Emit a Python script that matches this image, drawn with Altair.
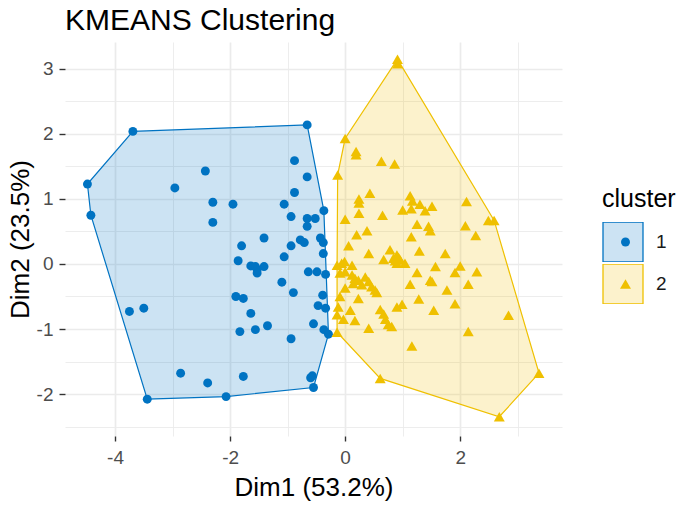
import altair as alt
import pandas as pd

# ---------------- data ----------------
cluster_labels = ["1", "2"]
cluster_colors = ["#0073C2", "#EFC000"]
cluster_fill_light = ["#CCE3F3", "#FCF2CC"]
cluster_shapes = ["circle", "triangle-up"]
cluster_sizes = [80, 120]

c1_x = [-3.69, -0.66, -4.48, -4.42, -0.88, -2.43, -0.66, -2.96, -0.88, -2.30,
        -1.95, -1.06, -0.37, -0.94, -0.66, -0.52, -0.66, -2.30, -1.41, -1.80,
        -0.78, -0.71, -0.43, -0.38, -0.94, -0.38, -1.06, -1.86, -1.64, -1.56,
        -1.53, -1.41, -1.53, -0.64, -0.49, -0.34, -1.10, -0.90, -0.39, -1.90,
        -1.77, -0.47, -0.34, -3.75, -3.50, -1.64, -1.35, -1.56, -1.83, -0.55,
        -0.37, -0.29, -0.94, -2.86, -2.39, -1.77, -0.57, -0.60, -0.55, -3.44,
        -2.07]
c1_y = [2.04, 2.14, 1.23, 0.75, 1.59, 1.43, 1.34, 1.17, 1.10, 0.95,
        0.92, 0.92, 0.82, 0.73, 0.70, 0.70, 0.58, 0.64, 0.40, 0.28,
        0.37, 0.33, 0.40, 0.33, 0.28, 0.16, 0.11, 0.05, -0.03, -0.04,
        -0.09, -0.04, -0.14, -0.12, -0.12, -0.16, -0.28, -0.44, -0.48, -0.50,
        -0.53, -0.64, -0.68, -0.73, -0.68, -0.76, -0.95, -1.01, -1.04, -0.92,
        -1.01, -1.08, -1.15, -1.68, -1.83, -1.73, -1.72, -1.75, -1.90, -2.08,
        -2.04]

c2_x = [0.91, 0.91, 0.00, 0.19, 0.19, 0.63, 0.86, -0.13, 0.43, 0.24,
        0.24, 1.13, 1.17, 1.00, 1.15, 1.30, 1.39, 1.51, 0.00, 0.24,
        0.65, 1.25, 1.45, 1.48, 0.20, 0.38, 1.15, 2.11, 2.49, 2.59,
        2.09, 2.27, 0.06, 0.41, 0.78, 0.90, 0.84, 0.96, 0.67, 1.04,
        0.90, 1.29, 1.57, 1.74, 1.25, 1.48, 1.51, 1.13, 1.28, 1.54,
        -0.14, -0.06, -0.01, 0.12, -0.09, 0.00, 0.12, 0.17, 0.23, 0.14,
        0.35, 0.41, 0.29, 0.46, 0.52, 0.55, 0.00, -0.09, 0.23, -0.12,
        -0.14, 0.09, -0.03, 0.17, 0.61, 0.67, 0.70, 0.75, 0.81, 0.90,
        0.99, 0.41, -0.14, 0.61, 1.16, 2.14, 2.84, 3.37, 2.68, 1.91,
        1.77, 2.14, 2.29, 2.00, 1.91, 0.93, 0.87]
c2_y = [3.15, 3.08, 1.93, 1.73, 1.68, 1.58, 1.54, 1.37, 1.09, 1.00,
        0.94, 1.05, 0.97, 0.83, 0.85, 0.92, 0.82, 0.89, 0.69, 0.78,
        0.75, 0.61, 0.58, 0.51, 0.45, 0.51, 0.42, 0.96, 0.67, 0.67,
        0.59, 0.44, 0.28, 0.16, 0.22, 0.14, 0.09, 0.06, 0.07, 0.01,
        0.01, 0.20, -0.04, 0.16, -0.13, -0.25, -0.27, -0.31, -0.54, -0.71,
        -0.02, 0.01, 0.04, -0.02, -0.14, -0.12, -0.17, -0.22, -0.25, -0.30,
        -0.20, -0.27, -0.32, -0.35, -0.40, -0.44, -0.37, -0.50, -0.53, -0.66,
        -0.78, -0.71, -0.85, -0.87, -0.70, -0.77, -0.85, -0.93, -0.96, -0.66,
        -0.62, -0.99, -1.05, -1.76, -1.26, -1.04, -0.79, -1.68, -2.35, -0.61,
        -0.40, -0.31, -0.12, -0.03, -0.13, 0.10, 0.05]

x_ticks = [-4, -3, -2, -1, 0, 1, 2, 3]
y_ticks = [-2.5, -2, -1.5, -1, -0.5, 0, 0.5, 1, 1.5, 2, 2.5, 3]
x_domain = [-4.87, 3.77]
y_domain = [-2.646, 3.415]

title_text = "KMEANS Clustering"
x_title = "Dim1 (53.2%)"
y_title = "Dim2 (23.5%)"
legend_title = "cluster"

FONT = "Liberation Sans"

# ---------------- derived tables ----------------
def convex_hull(pts):
    pts = sorted(set(pts))
    if len(pts) <= 2:
        return pts

    def cross(o, a, b):
        return (a[0] - o[0]) * (b[1] - o[1]) - (a[1] - o[1]) * (b[0] - o[0])

    lower = []
    for p in pts:
        while len(lower) >= 2 and cross(lower[-2], lower[-1], p) <= 0:
            lower.pop()
        lower.append(p)
    upper = []
    for p in reversed(pts):
        while len(upper) >= 2 and cross(upper[-2], upper[-1], p) <= 0:
            upper.pop()
        upper.append(p)
    return lower[:-1] + upper[:-1]


points_rows = []
hull_rows = []
for lab, xs, ys in [("1", c1_x, c1_y), ("2", c2_x, c2_y)]:
    for a, b in zip(xs, ys):
        points_rows.append({"x": a, "y": b, "cluster": lab})
    for i, (a, b) in enumerate(convex_hull(list(zip(xs, ys)))):
        hull_rows.append({"x": a, "y": b, "cluster": lab, "idx": i})

points_df = pd.DataFrame(points_rows)
hull_df = pd.DataFrame(hull_rows)

# ---------------- scales & axes ----------------
x_scale = alt.Scale(domain=x_domain, nice=False, zero=False)
y_scale = alt.Scale(domain=y_domain, nice=False, zero=False)

minus_fix = "(datum.value < 0 ? '-' + abs(datum.value) : '' + datum.value)"
x_major = "datum.value % 2 === 0"
y_major = "datum.value % 1 === 0"


def make_axis(title, values, major, tick_size, label_padding, **extra):
    return alt.Axis(
        title=title,
        values=values,
        domain=False,
        labelExpr=f"{major} ? {minus_fix} : ''",
        labelFont=FONT,
        labelFontSize=19,
        labelColor="#4D4D4D",
        labelPadding=label_padding,
        labelOverlap=False,
        labelFlush=False,
        tickColor="#333333",
        tickWidth=1.4,
        tickSize=tick_size,
        tickOpacity={"condition": {"test": major, "value": 1}, "value": 0},
        gridColor="#EBEBEB",
        gridWidth={"condition": {"test": major, "value": 1.7}, "value": 0.9},
        titleFont=FONT,
        titleFontSize=26,
        titleFontWeight="normal",
        titleColor="#000000",
        titleBaseline="alphabetic",
        **extra,
    )


x_axis = make_axis(x_title, x_ticks, x_major, 5, 7, titleY=59)
y_axis = make_axis(y_title, y_ticks, y_major, 6, 6, titleX=-37, titleY=197,
                   titleAngle=270, titleAlign="center")

X = alt.X("x:Q", scale=x_scale, axis=x_axis)
Y = alt.Y("y:Q", scale=y_scale, axis=y_axis)

LEG_X = 537
LEG_Y = 145

box_legend = alt.Legend(
    title=legend_title, orient="none", legendX=LEG_X, legendY=LEG_Y,
    symbolType="square", symbolSize=1600, symbolStrokeWidth=1.3,
    clipHeight=40, rowPadding=2, titlePadding=10, labelOffset=12,
    titleFont=FONT, titleFontSize=25, titleFontWeight="normal", titleColor="#000000",
    labelFont=FONT, labelFontSize=19, labelColor="#1A1A1A", zindex=1,
)

point_legend = alt.Legend(
    title=" ", orient="none", legendX=LEG_X, legendY=LEG_Y,
    symbolOffset=14, symbolStrokeWidth=0,
    clipHeight=40, rowPadding=2, titlePadding=10, labelOffset=12,
    titleFont=FONT, titleFontSize=25, titleFontWeight="normal",
    labelFont=FONT, labelFontSize=19, labelExpr="''", zindex=2,
)

# ---------------- layers ----------------
hulls = alt.Chart(hull_df).mark_line(
    interpolate="linear-closed", fillOpacity=0.2, strokeWidth=1.2
).encode(
    x=X, y=Y,
    order=alt.Order("idx:Q"),
    stroke=alt.Stroke("cluster:N", scale=alt.Scale(range=cluster_colors), legend=None),
    fill=alt.Fill("cluster:N", scale=alt.Scale(range=cluster_colors), legend=None),
)

legend_boxes = alt.Chart(points_df).transform_filter("false").mark_square(
    strokeWidth=1.3, opacity=1
).encode(
    x=X, y=Y,
    fill=alt.Fill("cluster:N",
                  scale=alt.Scale(domain=cluster_labels, range=cluster_fill_light),
                  legend=box_legend),
    stroke=alt.Stroke("cluster:N",
                      scale=alt.Scale(domain=cluster_labels, range=cluster_colors),
                      legend=box_legend),
)

points = alt.Chart(points_df).mark_point(filled=True, opacity=1).encode(
    x=X, y=Y,
    color=alt.Color("cluster:N", scale=alt.Scale(range=cluster_colors), legend=point_legend),
    shape=alt.Shape("cluster:N", scale=alt.Scale(range=cluster_shapes), legend=point_legend),
    size=alt.Size("cluster:N", scale=alt.Scale(range=cluster_sizes), legend=point_legend),
)

chart = alt.layer(hulls, legend_boxes, points).resolve_scale(
    fill="independent", stroke="independent"
).properties(
    width=497,
    height=394,
    autosize=alt.AutoSizeParams(type="none"),
    padding={"left": 57, "top": 34, "right": 115, "bottom": 65},
    title=alt.TitleParams(
        text=title_text, anchor="start", frame="group", font=FONT,
        fontSize=30, fontWeight="normal", color="#000000",
        baseline="alphabetic", offset=-18,
    ),
).configure_view(stroke=None)

chart.save("out.html", embed_options={"renderer": "svg", "actions": False})
